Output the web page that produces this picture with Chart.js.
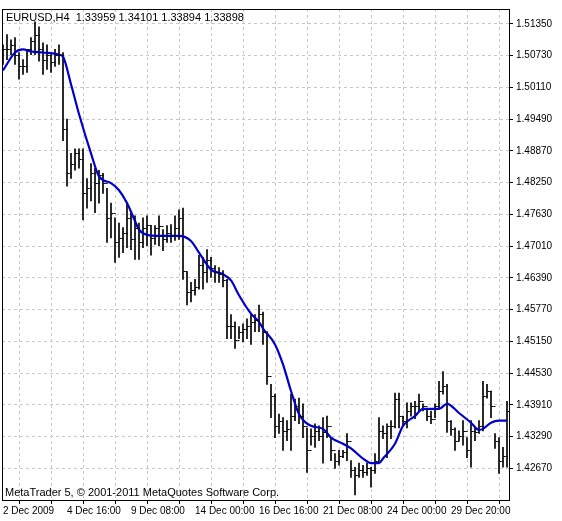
<!DOCTYPE html>
<html><head><meta charset="utf-8">
<script src="https://cdn.jsdelivr.net/npm/chart.js@4.4.1/dist/chart.umd.min.js"></script>
<style>html,body{margin:0;padding:0;background:#fff}#wrap{width:562px;height:521px}</style>
</head><body><div id="wrap"><canvas id="c"></canvas></div>
<script>
const title = 'EURUSD,H4  1.33959 1.34101 1.33894 1.33898';
const footer = 'MetaTrader 5, \u00a9 2001-2011 MetaQuotes Software Corp.';
const xLabels = ['2 Dec 2009','4 Dec 16:00','9 Dec 08:00','14 Dec 00:00','16 Dec 16:00','21 Dec 08:00','24 Dec 00:00','29 Dec 20:00'];
const yTicks = [1.51350,1.50730,1.50110,1.49490,1.48870,1.48250,1.47630,1.47010,1.46390,1.45770,1.45150,1.44530,1.43910,1.43290,1.42670];
const high = [1.5094,1.5114,1.5104,1.5108,1.5079,1.5065,1.5085,1.5108,1.5139,1.5129,1.5098,1.5094,1.5075,1.5085,1.5094,1.5079,1.4949,1.4882,1.4891,1.4891,1.4891,1.4833,1.4862,1.4853,1.4849,1.4843,1.4814,1.4785,1.4756,1.4746,1.4737,1.4785,1.4766,1.4760,1.4746,1.4756,1.4760,1.4741,1.4741,1.4760,1.4733,1.4741,1.4743,1.4760,1.4772,1.4775,1.4650,1.4630,1.4636,1.4683,1.4679,1.4694,1.4679,1.4663,1.4659,1.4653,1.4636,1.4567,1.4553,1.4544,1.4549,1.4559,1.4567,1.4567,1.4586,1.4572,1.4534,1.4431,1.4412,1.4373,1.4366,1.4360,1.4412,1.4402,1.4404,1.4393,1.4346,1.4344,1.4354,1.4350,1.4366,1.4369,1.4327,1.4296,1.4302,1.4302,1.4335,1.4282,1.4269,1.4277,1.4273,1.4277,1.4269,1.4296,1.4366,1.4350,1.4354,1.4360,1.4414,1.4414,1.4369,1.4395,1.4395,1.4398,1.4412,1.4393,1.4383,1.4379,1.4393,1.4437,1.4456,1.4431,1.4360,1.4346,1.4340,1.4360,1.4327,1.4360,1.4346,1.4360,1.4437,1.4431,1.4418,1.4335,1.4327,1.4308,1.4398];
const low = [1.5056,1.5065,1.5075,1.5056,1.5027,1.5036,1.5040,1.5075,1.5075,1.5062,1.5036,1.5046,1.5040,1.5052,1.5056,1.4907,1.4818,1.4833,1.4849,1.4853,1.4752,1.4775,1.4789,1.4766,1.4785,1.4804,1.4708,1.4717,1.4669,1.4679,1.4688,1.4698,1.4694,1.4675,1.4675,1.4698,1.4702,1.4683,1.4704,1.4702,1.4692,1.4708,1.4708,1.4712,1.4714,1.4636,1.4586,1.4592,1.4605,1.4617,1.4617,1.4630,1.4640,1.4630,1.4630,1.4621,1.4520,1.4520,1.4501,1.4520,1.4514,1.4520,1.4509,1.4534,1.4534,1.4509,1.4431,1.4366,1.4327,1.4335,1.4302,1.4321,1.4302,1.4360,1.4354,1.4327,1.4259,1.4312,1.4308,1.4321,1.4277,1.4327,1.4282,1.4267,1.4273,1.4288,1.4282,1.4249,1.4215,1.4249,1.4249,1.4253,1.4230,1.4257,1.4282,1.4325,1.4288,1.4325,1.4346,1.4346,1.4350,1.4346,1.4369,1.4364,1.4379,1.4379,1.4360,1.4354,1.4366,1.4385,1.4412,1.4337,1.4331,1.4302,1.4321,1.4312,1.4288,1.4269,1.4321,1.4335,1.4340,1.4404,1.4366,1.4306,1.4257,1.4269,1.4269];
const open = [1.5075,1.5085,1.5085,1.5094,1.5075,1.5052,1.5052,1.5085,1.5102,1.5114,1.5085,1.5065,1.5075,1.5060,1.5075,1.5075,1.4930,1.4843,1.4862,1.4882,1.4872,1.4804,1.4814,1.4843,1.4824,1.4839,1.4824,1.4756,1.4766,1.4708,1.4717,1.4727,1.4756,1.4714,1.4737,1.4708,1.4737,1.4743,1.4717,1.4737,1.4741,1.4714,1.4727,1.4723,1.4737,1.4756,1.4653,1.4611,1.4615,1.4621,1.4665,1.4650,1.4673,1.4659,1.4650,1.4646,1.4634,1.4544,1.4544,1.4518,1.4534,1.4540,1.4544,1.4553,1.4557,1.4569,1.4534,1.4447,1.4408,1.4350,1.4360,1.4340,1.4344,1.4369,1.4389,1.4369,1.4350,1.4302,1.4331,1.4340,1.4331,1.4337,1.4350,1.4302,1.4282,1.4292,1.4298,1.4321,1.4263,1.4253,1.4263,1.4259,1.4267,1.4263,1.4282,1.4340,1.4335,1.4350,1.4350,1.4402,1.4369,1.4360,1.4379,1.4389,1.4389,1.4398,1.4389,1.4369,1.4364,1.4389,1.4418,1.4427,1.4360,1.4344,1.4321,1.4331,1.4340,1.4302,1.4340,1.4337,1.4350,1.4408,1.4418,1.4389,1.4321,1.4282,1.4292];
const close = [1.5085,1.5085,1.5094,1.5075,1.5052,1.5052,1.5085,1.5102,1.5114,1.5085,1.5065,1.5075,1.5060,1.5075,1.5075,1.4930,1.4843,1.4862,1.4882,1.4872,1.4804,1.4814,1.4843,1.4824,1.4839,1.4824,1.4756,1.4766,1.4708,1.4717,1.4727,1.4756,1.4714,1.4737,1.4708,1.4737,1.4743,1.4717,1.4737,1.4741,1.4714,1.4727,1.4723,1.4737,1.4756,1.4653,1.4611,1.4615,1.4621,1.4665,1.4650,1.4673,1.4659,1.4650,1.4646,1.4634,1.4544,1.4544,1.4518,1.4534,1.4540,1.4544,1.4553,1.4557,1.4569,1.4534,1.4447,1.4408,1.4350,1.4360,1.4340,1.4344,1.4369,1.4389,1.4369,1.4350,1.4302,1.4331,1.4340,1.4331,1.4337,1.4350,1.4302,1.4282,1.4292,1.4298,1.4321,1.4263,1.4253,1.4263,1.4259,1.4267,1.4263,1.4282,1.4340,1.4335,1.4350,1.4350,1.4402,1.4369,1.4360,1.4379,1.4389,1.4389,1.4398,1.4389,1.4369,1.4364,1.4389,1.4418,1.4427,1.4360,1.4344,1.4321,1.4331,1.4340,1.4302,1.4340,1.4337,1.4350,1.4408,1.4418,1.4389,1.4321,1.4282,1.4292,1.4379];
const maIdx = [0,3,5,7,10,14,15,17,19,22,24,27,29,31,33,34,36,39,42,44,47,49,52,55,57,59,62,64,65,68,70,72,74,77,80,82,85,87,90,92,94,95,98,100,103,105,109,111,114,117,119,120,122,124,126];
const maVal = [1.5044,1.5079,1.5085,1.5081,1.5079,1.5075,1.5071,1.5017,1.4959,1.4882,1.4837,1.4824,1.4810,1.4785,1.4750,1.4733,1.4723,1.4721,1.4721,1.4721,1.4711,1.4688,1.4655,1.4646,1.4634,1.4605,1.4569,1.4553,1.4540,1.4509,1.4470,1.4418,1.4373,1.4350,1.4344,1.4327,1.4315,1.4306,1.4286,1.4277,1.4277,1.4286,1.4315,1.4350,1.4369,1.4383,1.4383,1.4393,1.4375,1.4356,1.4342,1.4344,1.4356,1.4360,1.4360];

const FONT = 'Liberation Sans';
const barData = high.map((h,i)=>({x:i, y:[low[i], h]}));
const maData = maIdx.map((v,i)=>({x:v, y:maVal[i]}));

const deco = {
  id:'deco',
  afterDatasetsDraw(chart){
    const {ctx, chartArea:a, scales:{x, y}} = chart;
    ctx.save();
    ctx.beginPath(); ctx.rect(a.left,a.top,a.right-a.left,a.bottom-a.top); ctx.clip();
    ctx.strokeStyle='#000'; ctx.lineWidth=1;
    ctx.beginPath();
    for(let i=0;i<high.length;i++){
      const px=Math.round(x.getPixelForValue(i))+0.5;
      const po=Math.round(y.getPixelForValue(open[i]))+0.5;
      const pc=Math.round(y.getPixelForValue(close[i]))+0.5;
      ctx.moveTo(px-2,po); ctx.lineTo(px,po);
      ctx.moveTo(px,pc); ctx.lineTo(px+2,pc);
    }
    ctx.stroke();
    ctx.restore();
  },
  afterDraw(chart){
    const {ctx, chartArea:a} = chart;
    ctx.save();
    ctx.strokeStyle='#000'; ctx.lineWidth=1; ctx.setLineDash([]);
    ctx.strokeRect(Math.round(a.left)+0.5, Math.round(a.top)+0.5, Math.round(a.right-a.left), Math.round(a.bottom-a.top));
    ctx.fillStyle='#000'; ctx.font='11px "'+FONT+'"'; ctx.textBaseline='alphabetic'; ctx.textAlign='left';
    ctx.fillText(title, a.left+4, a.top+12);
    ctx.fillText(footer, a.left+3, a.bottom-4);
    ctx.restore();
  }
};

new Chart(document.getElementById('c'), {
  data:{datasets:[
    {type:'line', data:maData, borderColor:'#0000c8', borderWidth:2.2, pointRadius:0, cubicInterpolationMode:'monotone', order:0},
    {type:'bar', data:barData, backgroundColor:'#000', borderWidth:0, barThickness:1, grouped:false, order:1}
  ]},
  options:{
    responsive:true, maintainAspectRatio:false, animation:false,
    layout:{padding:{left:2,top:4,right:0,bottom:0}},
    plugins:{legend:{display:false}, tooltip:{enabled:false}},
    scales:{
      x:{type:'linear', min:-0.25, max:126.5, offset:false,
        afterBuildTicks(s){ s.ticks = []; for(let v=0; v<=120; v+=8) s.ticks.push({value:v}); },
        afterFit(s){ s.height = 21; },
        grid:{color:'#c8c8c8', tickColor:'#000', tickLength:4, drawTicks:true},
        border:{display:true, color:'#000', dash:[3,3]},
        ticks:{autoSkip:false, maxRotation:0, align:'start', padding:1, color:'#000', font:{family:FONT, size:10},
          callback(v){ return v%16===0 ? xLabels[v/16] : ''; }}
      },
      y:{position:'right', min:1.42051, max:1.51640,
        afterBuildTicks(s){ s.ticks = yTicks.map(v=>({value:v})); },
        afterFit(s){ s.width = 53; },
        grid:{color:'#c8c8c8', tickColor:'#000', tickLength:4},
        border:{display:true, color:'#000', dash:[3,3]},
        ticks:{color:'#000', padding:3, font:{family:FONT, size:10}, callback(v){ return Number(v).toFixed(5); }}
      }
    }
  },
  plugins:[deco]
});
</script>
</body></html>
